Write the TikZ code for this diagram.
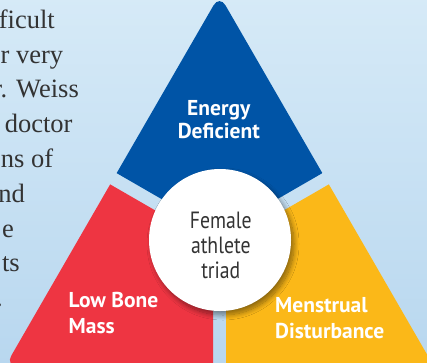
\documentclass[tikz,border=0pt]{standalone}
\usepackage{fontspec}
\setmainfont{Liberation Serif}
\newfontfamily\ptsans{PT Sans}
\newfontfamily\ptcond[FakeStretch=0.84]{PT Sans}
\usetikzlibrary{shadows.blur}
\definecolor{bgtop}{HTML}{D6EAF7}
\definecolor{bgbot}{HTML}{B8D7EF}
\definecolor{triblue}{HTML}{0054A6}
\definecolor{trired}{HTML}{EE3542}
\definecolor{triyellow}{HTML}{FBB818}
\definecolor{bodygray}{HTML}{333333}
\definecolor{hubgray}{HTML}{333333}
\tikzset{
  bodytext/.style={anchor=base east, inner sep=0pt, text=bodygray, font=\fontsize{26.5}{30}\selectfont},
  piecelabel/.style={inner sep=0pt, text=white, font=\ptsans\bfseries\fontsize{21.5}{24}\selectfont},
  hublabel/.style={anchor=base, inner sep=0pt, text=hubgray, font=\ptcond\fontsize{23.5}{25}\selectfont},
  bigtri/.style={rounded corners=12pt},
}
\begin{document}
\begin{tikzpicture}[x=1pt,y=-1pt]
\useasboundingbox (0,0) rectangle (427,362);
\clip (0,0) rectangle (427,362);
\shade[top color=bgtop, bottom color=bgbot] (-5,-5) rectangle (432,367);

% big triangle corners
\coordinate (apex) at (219.5,-5);
\coordinate (bl) at (5.3,366);
\coordinate (br) at (433.7,366);

% blue piece
\begin{scope}
  \clip (219.5,232.5) -- (-80.5,59.3) -- (-80.5,-100) -- (519.5,-100) -- (519.5,59.3) -- cycle;
  \fill[triblue, bigtri] (apex) -- (br) -- (bl) -- cycle;
\end{scope}
% red piece
\begin{scope}
  \clip (213,243.76) -- (213,500) -- (-100,500) -- (-100,63.05) -- cycle;
  \fill[trired, bigtri] (apex) -- (br) -- (bl) -- cycle;
\end{scope}
% yellow piece
\begin{scope}
  \clip (226,243.76) -- (226,500) -- (539,500) -- (539,63.05) -- cycle;
  \fill[triyellow, bigtri] (apex) -- (br) -- (bl) -- cycle;
\end{scope}

% hub circle
\node[circle, fill=white, minimum size=142pt, inner sep=0pt,
      blur shadow={shadow xshift=3pt, shadow yshift=-4pt, shadow blur radius=5pt, shadow blur steps=12, shadow opacity=45}]
      (hub) at (220,240) {};
\node[hublabel] (hubA) at (220.8,228.3) {Female};
\node[hublabel] (hubB) at (220.8,253.3) {athlete};
\node[hublabel] (hubC) at (220.8,278.3) {triad};

% piece labels
\node[piecelabel, anchor=base] (energyA) at (218.8,115.7) {Energy};
\node[piecelabel, anchor=base] (energyB) at (218.8,138.3) {Deficient};
\node[piecelabel, anchor=base west] (boneA) at (68.5,307) {Low Bone};
\node[piecelabel, anchor=base west] (boneB) at (68.5,333.3) {Mass};
\node[piecelabel, anchor=base west] (menA) at (275,312) {Menstrual};
\node[piecelabel, anchor=base west] (menB) at (275,338.3) {Disturbance};

% body text at left
\node[bodytext] (l1) at (55,28.3) {fficult};
\node[bodytext] (l2) at (63.3,63.1) {r very};
\node[bodytext] (l3) at (79,97.9) {r. Weiss};
\node[bodytext] (l4) at (72.7,132.7) {doctor};
\node[bodytext] (l5) at (53.3,167.5) {ns of};
\node[bodytext] (l6) at (25,202.3) {nd};
\node[bodytext] (l7) at (14,237.1) {e};
\node[bodytext] (l8) at (20,271.9) {ts};
\node[bodytext] (l9) at (3,306.7) {.};
\end{tikzpicture}
\end{document}
